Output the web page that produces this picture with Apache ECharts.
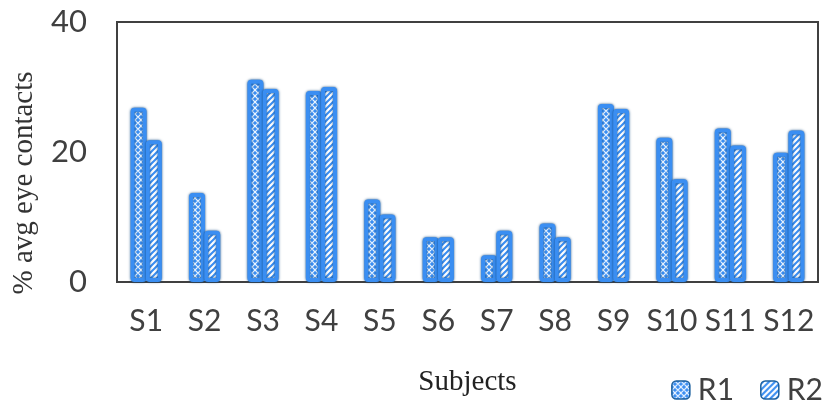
<!DOCTYPE html>
<html>
<head>
<meta charset="utf-8">
<script src="https://cdn.jsdelivr.net/npm/echarts@6/dist/echarts.min.js"></script>
<style>
  html, body { margin: 0; padding: 0; background: #fff; }
  #grafico { width: 830px; height: 402px; }
</style>
</head>
<body>
<div id="grafico"></div>
<script>
// datos
const categorias = ["S1","S2","S3","S4","S5","S6","S7","S8","S9","S10","S11","S12"];
const valoresR1 = [26.8, 13.7, 31.1, 29.4, 12.7, 6.9, 4.1, 9.0, 27.4, 22.2, 23.6, 19.9];
const valoresR2 = [21.8, 7.9, 29.7, 30.0, 10.4, 6.9, 7.9, 6.9, 26.6, 15.8, 21.0, 23.3];
const ticksY = [0, 20, 40];

const azul = '#3a8ef2';

// patrones de relleno
function patronRombos() {
  const c = document.createElement('canvas');
  c.width = 6; c.height = 6;
  const ctx = c.getContext('2d');
  ctx.fillStyle = azul;
  ctx.fillRect(0, 0, 6, 6);
  ctx.strokeStyle = 'rgba(235,245,255,1)';
  ctx.lineWidth = 1.2;
  ctx.beginPath();
  ctx.moveTo(0, 3); ctx.lineTo(3, 0); ctx.lineTo(6, 3); ctx.lineTo(3, 6); ctx.closePath();
  ctx.stroke();
  return c;
}
function patronRayas() {
  const c = document.createElement('canvas');
  c.width = 6; c.height = 6;
  const ctx = c.getContext('2d');
  ctx.fillStyle = azul;
  ctx.fillRect(0, 0, 6, 6);
  ctx.strokeStyle = '#ffffff';
  ctx.lineWidth = 2.2;
  ctx.beginPath();
  ctx.moveTo(-1, 7); ctx.lineTo(7, -1);
  ctx.moveTo(-4, 4); ctx.lineTo(4, -4);
  ctx.moveTo(2, 10); ctx.lineTo(10, 2);
  ctx.stroke();
  return c;
}

const estiloBarra = {
  borderColor: azul, borderWidth: 4, borderRadius: 2,
  shadowColor: 'rgba(15,70,125,1)', shadowBlur: 2.5
};

const miGrafico = echarts.init(document.getElementById('grafico'));

const opciones = {
  animation: false,
  grid: {
    left: 117, right: 12, top: 22, bottom: 120,
    show: true, borderColor: '#404040', borderWidth: 2
  },
  graphic: [{
    type: 'text',
    x: 24, y: 183,
    rotation: Math.PI / 2,
    style: {
      text: '% avg eye contacts',
      font: '29px "Liberation Serif"',
      fill: '#333',
      align: 'center',
      verticalAlign: 'middle'
    }
  }],
  legend: {
    right: 2, top: 370,
    itemWidth: 18, itemHeight: 18, itemGap: 26,
    itemStyle: { borderColor: '#1a5f9e', borderWidth: 1.5, shadowBlur: 0 },
    textStyle: { fontSize: 30, color: '#404040', fontFamily: 'Lato', padding: [0, 0, 0, 3] },
    data: ['R1', 'R2']
  },
  xAxis: {
    type: 'category',
    data: categorias,
    name: 'Subjects',
    nameLocation: 'middle',
    nameGap: 86,
    nameTextStyle: { fontSize: 29, color: '#222', fontFamily: 'Liberation Serif' },
    axisLine: { show: true, lineStyle: { color: '#404040', width: 2 } },
    axisTick: { show: false },
    axisLabel: { fontSize: 30, color: '#404040', margin: 24, fontFamily: 'Lato', interval: 0 }
  },
  yAxis: {
    type: 'value',
    min: 0, max: 40, interval: 20,
    axisLine: { show: true, lineStyle: { color: '#404040', width: 2 } },
    axisTick: { show: false },
    splitLine: { show: false },
    axisLabel: {
      fontSize: 31, color: '#404040', margin: 30, fontFamily: 'Lato',
      formatter: v => ticksY.includes(v) ? String(v) : ''
    }
  },
  series: [
    {
      name: 'R1', type: 'bar', data: valoresR1,
      barWidth: 16, barGap: '-5%',
      itemStyle: Object.assign({ color: { image: patronRombos(), repeat: 'repeat' } }, estiloBarra)
    },
    {
      name: 'R2', type: 'bar', data: valoresR2,
      barWidth: 16,
      itemStyle: Object.assign({ color: { image: patronRayas(), repeat: 'repeat' } }, estiloBarra)
    }
  ]
};

miGrafico.setOption(opciones);
</script>
</body>
</html>
